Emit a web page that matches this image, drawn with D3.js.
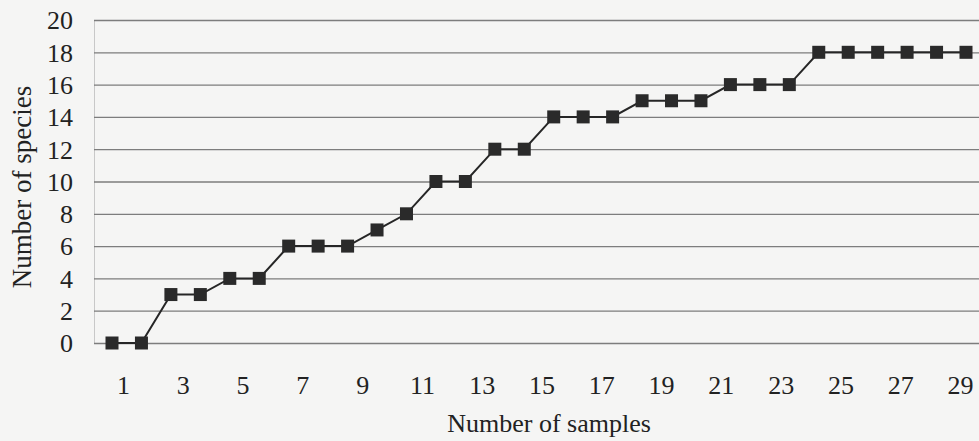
<!DOCTYPE html>
<html>
<head>
<meta charset="utf-8">
<script src="https://cdn.jsdelivr.net/npm/d3@7"></script>
<style>
  html, body { margin: 0; padding: 0; background: #f5f5f4; }
  svg { display: block; }
  text { font-family: "Liberation Serif", "Times New Roman", serif; fill: #222; }
</style>
</head>
<body>
<div id="chart"></div>
<script>
// species accumulation: one value per sample
const samples = [1, 2, 3, 4, 5, 6, 7, 8, 9, 10, 11, 12, 13, 14, 15,
  16, 17, 18, 19, 20, 21, 22, 23, 24, 25, 26, 27, 28, 29, 30];
const species = [0, 0, 3, 3, 4, 4, 6, 6, 6, 7, 8, 10, 10, 12, 12,
  14, 14, 14, 15, 15, 15, 16, 16, 16, 18, 18, 18, 18, 18, 18];
const yTicks = [0, 2, 4, 6, 8, 10, 12, 14, 16, 18, 20];
const xTickLabels = [1, 3, 5, 7, 9, 11, 13, 15, 17, 19, 21, 23, 25, 27, 29];

const width = 979;
const height = 441;
const margin = { top: 20, right: 0, bottom: 98, left: 94 };
const plotBottom = height - margin.bottom;

const svg = d3.select('#chart')
  .append('svg')
  .attr('width', width)
  .attr('height', height)
  .attr('viewBox', `0 0 ${width} ${height}`);

const xScale = d3.scaleLinear()
  .domain([1, 30])
  .range([112, 966]);

// the scanned labels drift a little to the right of the markers
const xLabelScale = d3.scaleLinear()
  .domain([1, 29])
  .range([123, 960]);

const yScale = d3.scaleLinear()
  .domain([0, 20])
  .range([plotBottom, margin.top]);

// horizontal grid
const yAxis = d3.axisLeft(yScale)
  .tickValues(yTicks)
  .tickSize(-(width - margin.left))
  .tickPadding(21)
  .tickFormat(d3.format('d'));

const gy = svg.append('g')
  .attr('transform', `translate(${margin.left}, 0)`)
  .call(yAxis);

gy.select('.domain')
  .attr('stroke', '#c8c8c8')
  .attr('stroke-width', 1);

gy.selectAll('.tick line')
  .attr('stroke', '#7d7d7d')
  .attr('stroke-width', 1.3);

gy.selectAll('.tick text')
  .attr('font-size', '26px')
  .attr('fill', '#222')
  .attr('dy', '0.34em');

const xAxis = d3.axisBottom(xLabelScale)
  .tickValues(xTickLabels)
  .tickSize(0)
  .tickPadding(0)
  .tickFormat(d3.format('d'));

const gx = svg.append('g')
  .attr('transform', `translate(0, ${plotBottom})`)
  .call(xAxis);

gx.select('.domain').remove();

gx.selectAll('.tick text')
  .attr('font-size', '26px')
  .attr('fill', '#222')
  .attr('y', 51)
  .attr('dy', 0);

const line = d3.line()
  .x((d, i) => xScale(samples[i]))
  .y((d) => yScale(d));

svg.append('path')
  .datum(species)
  .attr('fill', 'none')
  .attr('stroke', '#262626')
  .attr('stroke-width', 2)
  .attr('d', line);

const markerSize = 13;
svg.append('g')
  .selectAll('rect')
  .data(species)
  .join('rect')
  .attr('x', (d, i) => xScale(samples[i]) - markerSize / 2)
  .attr('y', (d) => yScale(d) - markerSize / 2)
  .attr('width', markerSize)
  .attr('height', markerSize)
  .attr('fill', '#2a2a2a');

svg.append('text')
  .attr('x', 549)
  .attr('y', 432)
  .attr('text-anchor', 'middle')
  .attr('font-size', '26px')
  .text('Number of samples');

svg.append('text')
  .attr('transform', 'translate(31, 187) rotate(-90)')
  .attr('text-anchor', 'middle')
  .attr('font-size', '27px')
  .text('Number of species');
</script>
</body>
</html>
